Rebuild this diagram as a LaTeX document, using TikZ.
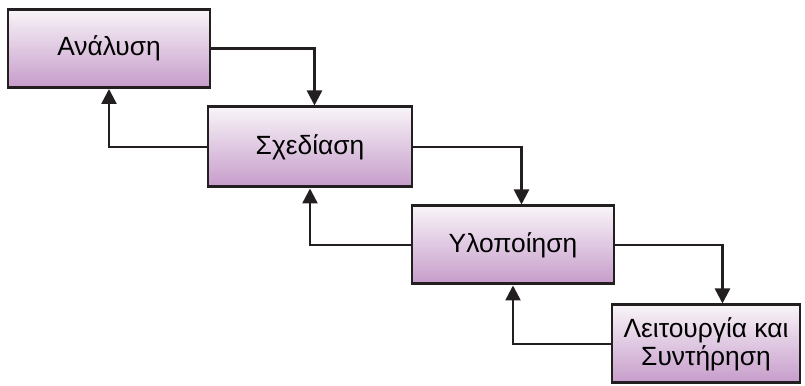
\documentclass[tikz,border=0pt]{standalone}
\usepackage{fontspec}
\setmainfont{Liberation Sans}
\usepackage{xcolor}
\usepackage{tikz}
\usetikzlibrary{arrows.meta, positioning, calc}
\definecolor{phtop}{HTML}{F8F4F8}
\definecolor{phbot}{HTML}{C69CCA}
\definecolor{phdraw}{HTML}{231F20}
\tikzset{
  phase/.style={rectangle, draw=phdraw, line width=1.7pt, top color=phtop, bottom color=phbot, align=center, font=\fontsize{15}{16}\selectfont, minimum width=4.04cm, minimum height=1.56cm, inner sep=2pt},
  arr/.style={-{Triangle[length=0.3cm, width=0.3cm]}, line width=1.4pt, draw=phdraw},
}

\begin{document}
\begin{tikzpicture}
  \useasboundingbox (0,0) rectangle (16.1,7.72);
  % phases
  \node[phase] (s1) at (2.18,6.75) {Ανάλυση};
  \node[phase, minimum width=4.08cm, minimum height=1.6cm] (s2) at (6.2,4.78) {Σχεδίαση};
  \node[phase] (s3) at (10.26,2.82) {Υλοποίηση};
  \node[phase, minimum width=3.76cm] (s4) at (14.12,0.84) {Λειτουργία και\\Συντήρηση};
  % forward
  \draw[arr] (s1.east) -| ([xshift=2.06cm]s1.east |- s2.north);
  \draw[arr] (s2.east) -| ([xshift=2.16cm]s2.east |- s3.north);
  \draw[arr] (s3.east) -| ([xshift=2.14cm]s3.east |- s4.north);
  % feedback
  \draw[arr] (s2.west) -| (s1.south);
  \draw[arr] (s3.west) -| (s2.south);
  \draw[arr] (s4.west) -| (s3.south);
\end{tikzpicture}
\end{document}
